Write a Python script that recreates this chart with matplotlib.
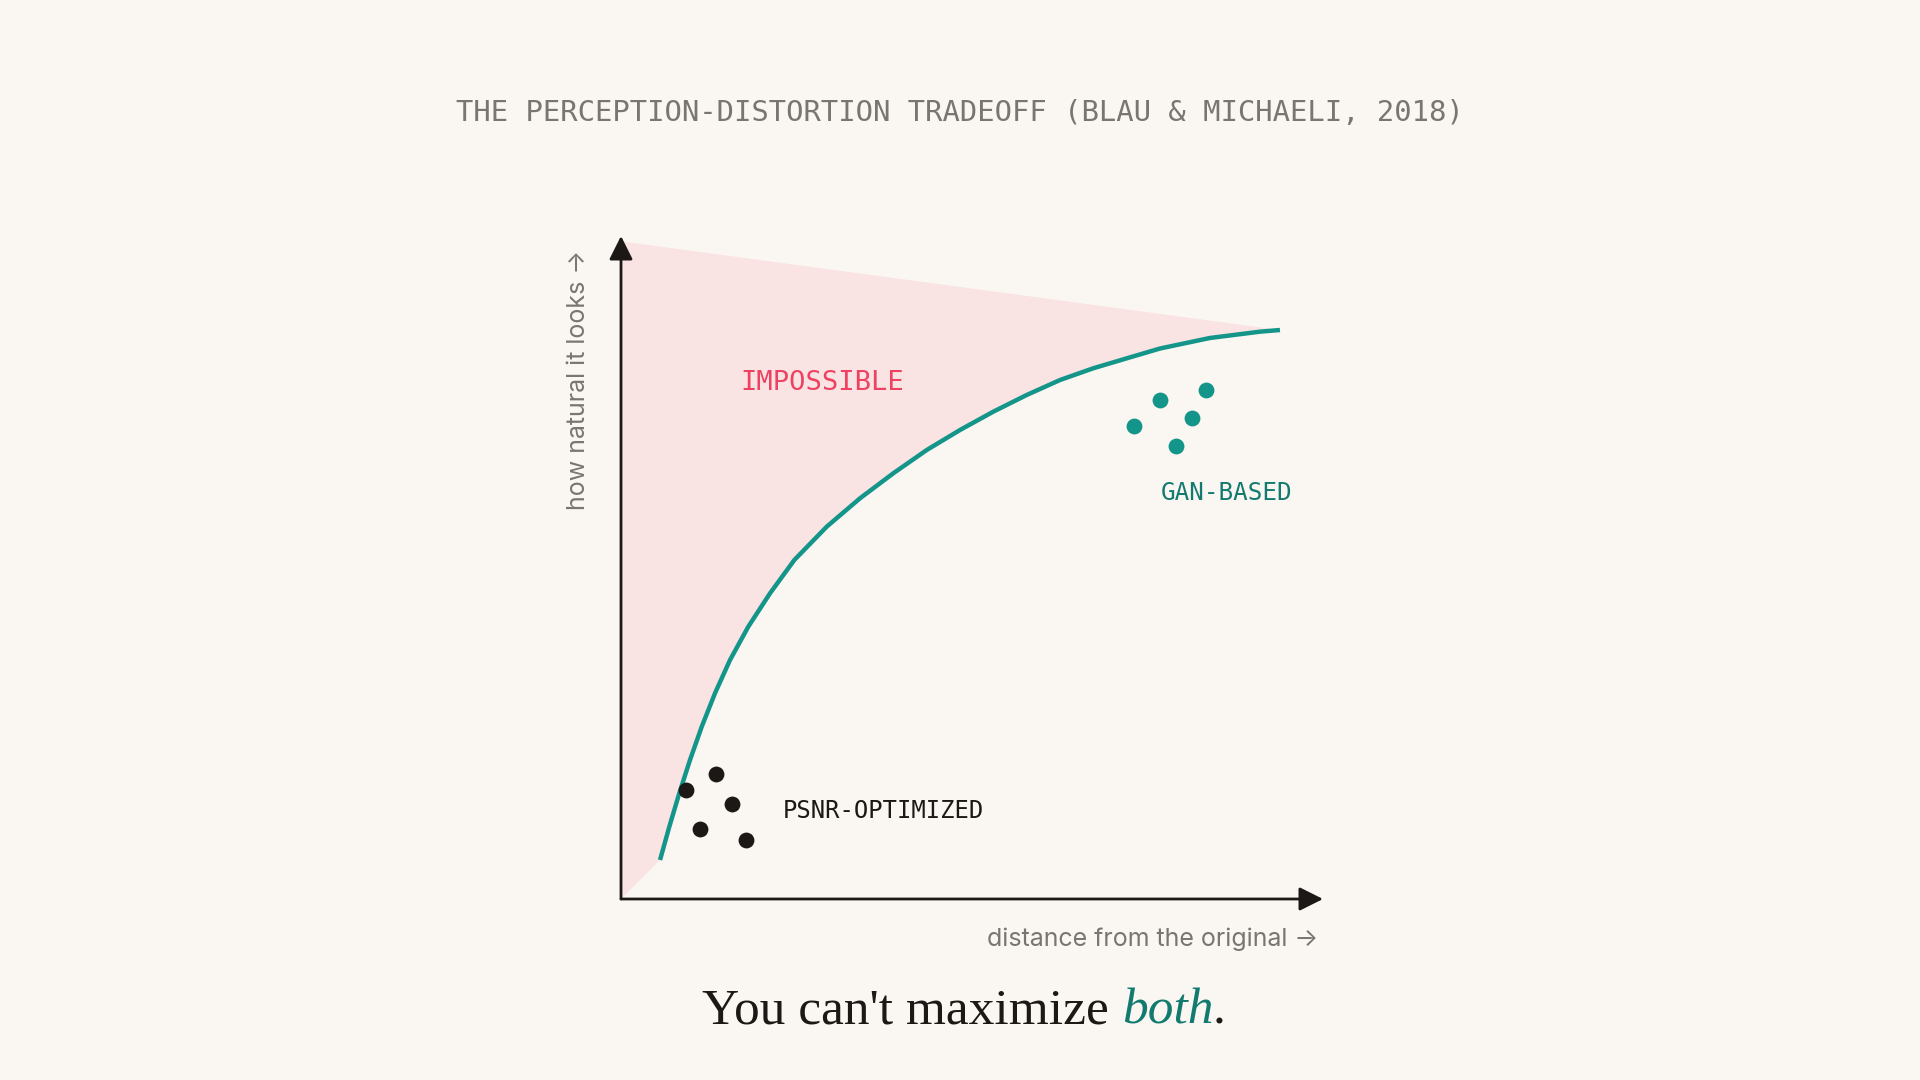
import matplotlib

matplotlib.use("Agg")
import matplotlib.pyplot as plt

BG = "#faf7f2"
INK = "#1c1816"
TEAL = "#14958a"
TEAL_DARK = "#137a6f"
PINK_FILL = "#fae3e3"
RED = "#ee4262"
GREY = "#7a756f"
MONO = "DejaVu Sans Mono"
SANS = ["Inter", "DejaVu Sans"]
SERIF = ["Liberation Serif", "DejaVu Serif"]

# perception-distortion frontier (axis units 0-100)
frontier_x = [5.56, 6.88, 8.30, 9.83, 11.50, 13.39, 15.53, 18.13, 21.23, 24.69, 29.30, 34.05,
              38.79, 43.55, 48.29, 53.03, 57.79, 62.54, 67.28, 72.04, 76.78, 83.90, 91.03, 93.87]
frontier_y = [5.88, 10.90, 15.94, 20.97, 25.99, 31.03, 36.05, 41.07, 46.11, 51.13, 56.15, 60.44,
              64.21, 67.72, 70.74, 73.50, 76.02, 78.28, 80.05, 81.55, 83.03, 84.62, 85.57, 85.82]

# upper edge of the "impossible" region
region_top_x = [0.0, 93.87]
region_top_y = [99.2, 85.82]

psnr_x = [13.5, 9.2, 15.8, 11.3, 17.8]
psnr_y = [18.9, 16.5, 14.4, 10.5, 8.9]

gan_x = [73.1, 76.8, 83.3, 81.3, 79.1]
gan_y = [71.4, 75.3, 76.8, 72.6, 68.4]

TITLE = "THE PERCEPTION-DISTORTION TRADEOFF (BLAU & MICHAELI, 2018)"

fig = plt.figure(figsize=(19.2, 10.8), dpi=100, facecolor=BG)
ax = fig.add_axes([621 / 1920, 1 - 899 / 1080, 702 / 1920, 663 / 1080])
ax.set_xlim(0, 100)
ax.set_ylim(0, 100)
ax.axis("off")

poly_x = [0.0] + region_top_x + frontier_x[::-1] + [0.0]
poly_y = [0.0] + region_top_y + frontier_y[::-1] + [0.0]
ax.fill(poly_x, poly_y, color=PINK_FILL, lw=0, zorder=1)
ax.plot(frontier_x, frontier_y, color=TEAL, lw=3.2, solid_capstyle="butt",
        solid_joinstyle="round", zorder=3)

arrow = dict(arrowstyle="-|>", mutation_scale=36, lw=2, color=INK, shrinkA=0, shrinkB=0)
ax.annotate("", xy=(100, 0), xytext=(0, 0), arrowprops=arrow, annotation_clip=False, zorder=5)
ax.annotate("", xy=(0, 100), xytext=(0, 0), arrowprops=arrow, annotation_clip=False, zorder=5)

ax.scatter(psnr_x, psnr_y, s=130, color=INK, lw=0, zorder=4)
ax.scatter(gan_x, gan_y, s=130, color=TEAL, lw=0, zorder=4)

ax.text(17.05, 76.8, "IMPOSSIBLE", family=MONO, fontsize=19.5, color=RED, va="baseline")
ax.text(76.9, 60.2, "GAN-BASED", family=MONO, fontsize=17.5, color=TEAL_DARK, va="baseline")
ax.text(23.0, 12.2, "PSNR-OPTIMIZED", family=MONO, fontsize=17.2, color=INK, va="baseline")

fig.text(0.5, 1 - 121 / 1080, TITLE, family=MONO, fontsize=20.75, color=GREY,
         ha="center", va="baseline")

fig.text(585 / 1920, 1 - 379.5 / 1080, "how natural it looks \u2192", family=SANS,
         fontsize=18, color=GREY, rotation=90, rotation_mode="anchor",
         ha="center", va="baseline")
fig.text(1318 / 1920, 1 - 946 / 1080, "distance from the original \u2192", family=SANS,
         fontsize=18, color=GREY, ha="right", va="baseline")

t1 = fig.text(702 / 1920, 1 - 1023 / 1080, "You can't maximize ", family=SERIF,
              fontsize=37, color=INK, ha="left", va="baseline")
t2 = fig.text(0, 0, "both", family=SERIF, fontsize=37, color=TEAL_DARK, style="italic",
              ha="left", va="baseline")
t3 = fig.text(0, 0, ".", family=SERIF, fontsize=37, color=INK, ha="left", va="baseline")

renderer = fig.canvas.get_renderer()
inv = fig.transFigure.inverted()
x_next = inv.transform(t1.get_window_extent(renderer).get_points())[1, 0]
t2.set_position((x_next, 1 - 1023 / 1080))
x_next = inv.transform(t2.get_window_extent(renderer).get_points())[1, 0]
t3.set_position((x_next, 1 - 1023 / 1080))

fig.savefig("out.png", dpi=100, facecolor=BG)
